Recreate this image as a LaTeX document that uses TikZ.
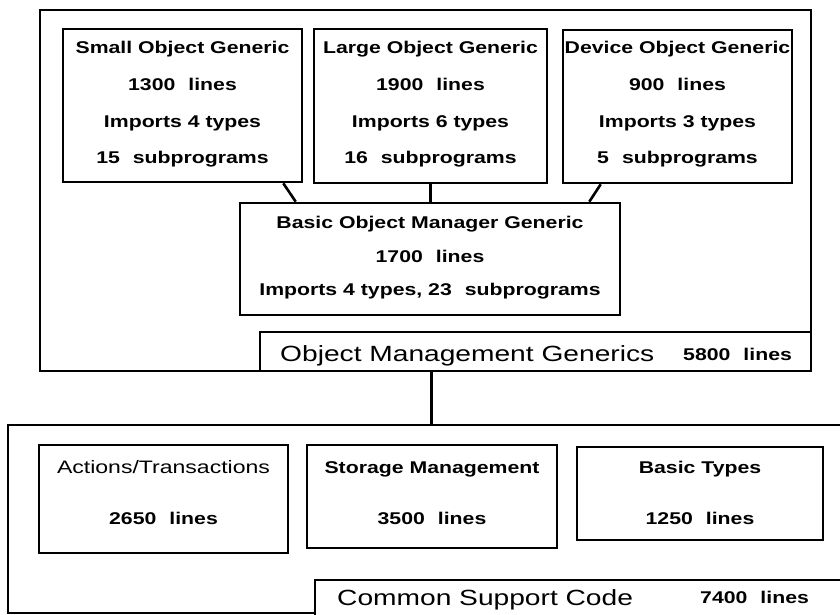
\documentclass[tikz,border=0pt]{standalone}
\usepackage{fontspec}
\usetikzlibrary{fit}
\newfontfamily\bsans[FakeStretch=1.25]{Liberation Sans}
\newfontfamily\rsans[FakeStretch=1.28]{Liberation Sans}
\newcommand\gp{\hspace{13pt}}
\begin{document}
\begin{tikzpicture}[x=1pt,y=-1pt,
  box/.style={draw,line width=2.6pt,inner sep=0pt,fill=white},
  conn/.style={line width=2.6pt},
  btxt/.style={font=\bsans\bfseries\fontsize{17}{36.7}\selectfont,align=center,inner sep=0pt},
  mtxt/.style={font=\bsans\bfseries\fontsize{17}{33.5}\selectfont,align=center,inner sep=0pt},
  ltxt/.style={font=\bsans\bfseries\fontsize{17}{51}\selectfont,align=center,inner sep=0pt},
  bigtxt/.style={font=\rsans\fontsize{22}{22}\selectfont,inner sep=0pt,anchor=base west},
  numtxt/.style={font=\bsans\bfseries\fontsize{17}{17}\selectfont,inner sep=0pt,anchor=base west}]
\useasboundingbox (0,0) rectangle (840,615);
% ---------- upper group ----------
\node[box,fit={(40,10)(811,371)}] (top) {};
\node[box,fit={(63,29)(302,182)}] (small) {};
\node[box,fit={(314,29)(547,183)}] (large) {};
\node[box,fit={(563,30)(792,183)}] (device) {};
\node[box,fit={(240,203)(620,315)}] (basic) {};
\node[box,fit={(260,332)(811,371)}] (omg) {};
\node[btxt] (smallT) at (182.5,104.5) {Small Object Generic\\1300\gp lines\\Imports 4 types\\15\gp subprograms};
\node[btxt] (largeT) at (430.5,104.5) {Large Object Generic\\1900\gp lines\\Imports 6 types\\16\gp subprograms};
\node[btxt] (deviceT) at (677.5,104.5) {Device Object Generic\\900\gp lines\\Imports 3 types\\5\gp subprograms};
\node[mtxt] (basicT) at (430,258) {Basic Object Manager Generic\\1700\gp lines\\Imports 4 types, 23\gp subprograms};
\node[bigtxt] (omgT) at (280,361) {Object Management Generics};
\node[numtxt] (omgN) at (683,360) {5800\gp lines};
\draw[conn] ([xshift=-20pt]small.south east) -- ([xshift=57pt]basic.north west);
\draw[conn] (large.south) -- (large.south |- basic.north);
\draw[conn] ([xshift=39pt]device.south west) -- ([xshift=-32pt]basic.north east);
% ---------- lower group ----------
\node[box,fit={(8,425)(860,613)}] (lower) {};
\node[box,fit={(39,445)(288,553)}] (act) {};
\node[box,fit={(307,445)(557,548)}] (stor) {};
\node[box,fit={(577,447)(823,540)}] (btypes) {};
\node[box,fit={(315,580)(860,630)}] (csc) {};
\node[ltxt] (actT) at (163.5,493) {{\rsans\mdseries\fontsize{18}{51}\selectfont Actions/Transactions}\\2650\gp lines};
\node[ltxt] (storT) at (432,493) {Storage Management\\3500\gp lines};
\node[ltxt] (btypesT) at (700,493) {Basic Types\\1250\gp lines};
\node[bigtxt] (cscT) at (337,605) {Common Support Code};
\node[numtxt] (cscN) at (700,603) {7400\gp lines};
\draw[conn] ([xshift=173pt]omg.south west) -- ([xshift=173pt]omg.south west |- lower.north);
\end{tikzpicture}
\end{document}
